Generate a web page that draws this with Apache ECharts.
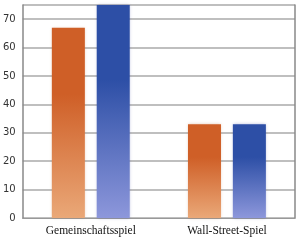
<!DOCTYPE html>
<html><head><meta charset="utf-8">
<script src="https://cdn.jsdelivr.net/npm/echarts@6/dist/echarts.min.js"></script>
<style>html,body{margin:0;padding:0;background:#fff}#c{width:300px;height:241px}</style>
</head><body><div id="c"></div>
<script>
const categories = ['Gemeinschaftsspiel', 'Wall-Street-Spiel'];
const seriesOrange = [67, 33];
const seriesBlue = [75, 33];
const yTicks = [0, 10, 20, 30, 40, 50, 60, 70];

const chart = echarts.init(document.getElementById('c'));
const grad = (top, bottom) => new echarts.graphic.LinearGradient(0, 0, 0, 1, [
  {offset: 0, color: top}, {offset: 0.35, color: top}, {offset: 1, color: bottom}
]);
chart.setOption({
  animation: false,
  grid: {left: 21, right: 5, top: 5, bottom: 23},
  xAxis: {
    type: 'category', data: categories,
    axisLine: {show: true, lineStyle: {color: '#999', width: 1}},
    axisTick: {show: false},
    axisLabel: {fontFamily: 'Liberation Serif', fontSize: 11.5, color: '#111', margin: 7}
  },
  yAxis: [{
    type: 'value', min: 0, max: 75, interval: 10,
    axisLine: {show: true, lineStyle: {color: '#888', width: 1.5}},
    axisTick: {show: false},
    axisLabel: {fontFamily: 'DejaVu Sans', fontSize: 10, color: '#333', margin: 7,
      formatter: v => yTicks.includes(v) ? String(v) : ''},
    splitLine: {show: true, lineStyle: {color: '#aaa', width: 1.5}}
  }, {
    type: 'value', min: 0, max: 75, interval: 10, position: 'right',
    axisLine: {show: true, lineStyle: {color: '#888', width: 1.5}},
    axisTick: {show: false}, axisLabel: {show: false}, splitLine: {show: false}
  }],
  series: [{
    type: 'bar', data: seriesOrange, barWidth: 33, barGap: '36%',
    itemStyle: {color: grad('#cf5f27', '#eaa878'), shadowBlur: 3, shadowColor: 'rgba(180,100,50,0.35)'}
  }, {
    type: 'bar', data: seriesBlue, barWidth: 33,
    itemStyle: {color: grad('#2d4fa6', '#8d97db'), shadowBlur: 3, shadowColor: 'rgba(60,70,160,0.35)'}
  }]
});
</script></body></html>
